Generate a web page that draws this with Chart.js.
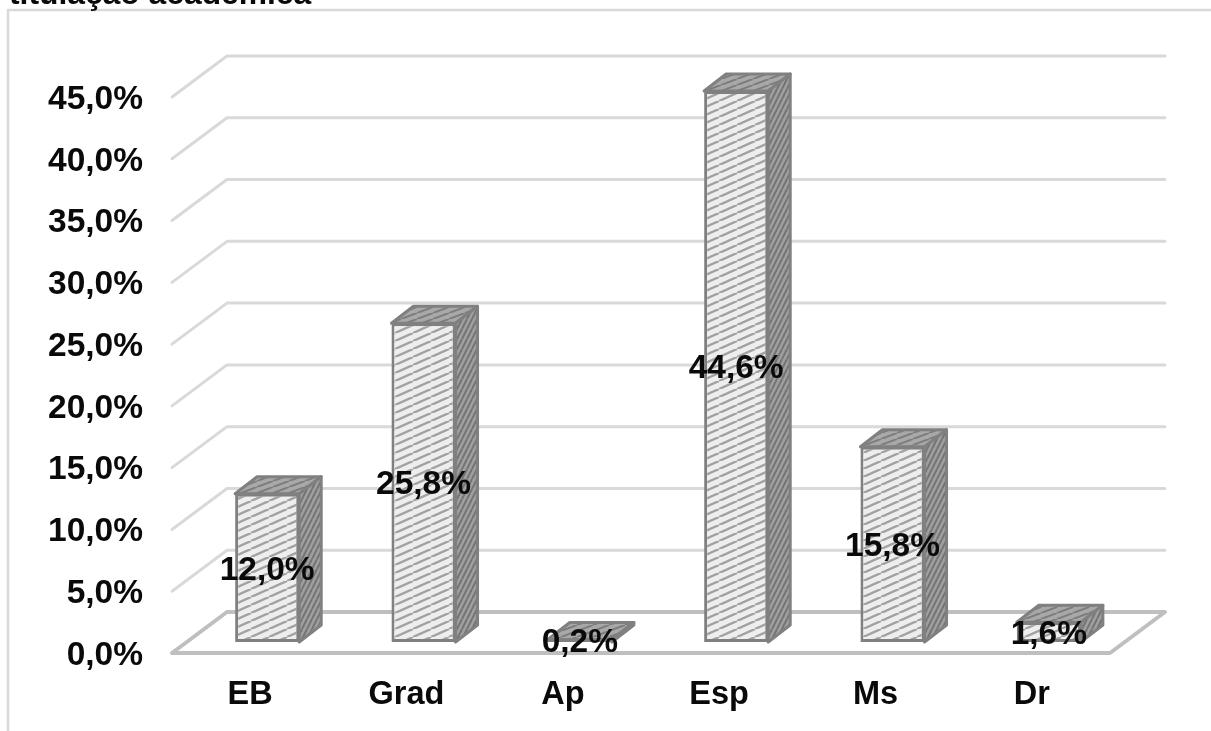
<!DOCTYPE html>
<html>
<head>
<meta charset="utf-8">
<style>
  html, body { margin: 0; padding: 0; background: #fff; }
  canvas { display: block; }
</style>
<script src="https://cdn.jsdelivr.net/npm/chart.js@4"></script>
</head>
<body>
<canvas id="chart" width="1211" height="731"></canvas>
<script>
const categories = ['EB', 'Grad', 'Ap', 'Esp', 'Ms', 'Dr'];
const percentages = [12.0, 25.8, 0.2, 44.6, 15.8, 1.6];
const tickLabels = ['0,0%', '5,0%', '10,0%', '15,0%', '20,0%', '25,0%', '30,0%', '35,0%', '40,0%', '45,0%'];
const titleText = 'titulação acadêmica';

const FONT = '"Liberation Sans", Arial, sans-serif';
const INK = '#0a0a0a';

// offsets of the fake 3D box
const wallDx = 55, wallDy = -41;
const barShiftX = 17, barShiftY = -11;
const depthX = 22, depthY = -17;

function makeStripes(bg, fg, w, h, lineWidth) {
  const c = document.createElement('canvas');
  c.width = w;
  c.height = h;
  const g = c.getContext('2d');
  g.fillStyle = bg;
  g.fillRect(0, 0, w, h);
  g.strokeStyle = fg;
  g.lineWidth = lineWidth;
  for (let i = -1; i <= 1; i++) {
    g.beginPath();
    g.moveTo(i * w, h);
    g.lineTo((i + 1) * w, 0);
    g.stroke();
  }
  return document.createElement('canvas').getContext('2d').createPattern(c, 'repeat');
}

const frontFill = makeStripes('#eeeeee', '#a2a2a2', 18, 8, 2.4);
const topFill = makeStripes('#a8a8a8', '#7c7c7c', 16, 6, 2);
const sideFill = makeStripes('#a0a0a0', '#747474', 5, 10, 2);

const wallsPlugin = {
  id: 'walls',
  beforeDatasetsDraw(chart) {
    const { ctx, chartArea, scales } = chart;
    const y = scales.y;
    ctx.save();
    ctx.lineCap = 'round';
    ctx.lineJoin = 'round';

    // outer frame, only left and top edges are visible
    ctx.strokeStyle = '#d9d9d9';
    ctx.lineWidth = 2.5;
    ctx.beginPath();
    ctx.moveTo(8, 731);
    ctx.lineTo(8, 10);
    ctx.lineTo(1211, 10);
    ctx.stroke();

    // grid lines running up the side wall and along the back wall
    ctx.lineWidth = 3;
    y.ticks.forEach(t => {
      if (t.value === 0) return;
      const py = y.getPixelForValue(t.value);
      ctx.beginPath();
      ctx.moveTo(chartArea.left, py);
      ctx.lineTo(chartArea.left + wallDx, py + wallDy);
      ctx.lineTo(chartArea.right + wallDx, py + wallDy);
      ctx.stroke();
    });

    // floor outline
    const floorY = y.getPixelForValue(0);
    ctx.strokeStyle = '#bfbfbf';
    ctx.lineWidth = 4;
    ctx.beginPath();
    ctx.moveTo(chartArea.left, floorY);
    ctx.lineTo(chartArea.right, floorY);
    ctx.lineTo(chartArea.right + wallDx, floorY + wallDy);
    ctx.lineTo(chartArea.left + wallDx, floorY + wallDy);
    ctx.closePath();
    ctx.stroke();

    // value axis labels, nudged down so the digits sit on the tick
    ctx.font = 'bold 33.5px ' + FONT;
    ctx.fillStyle = INK;
    ctx.textAlign = 'right';
    ctx.textBaseline = 'middle';
    y.ticks.forEach((t, i) => {
      ctx.fillText(tickLabels[i], 143, y.getPixelForValue(t.value) + 2.5);
    });
    ctx.restore();

    // the bars themselves stand a bit inside the floor
    ctx.save();
    ctx.translate(barShiftX, barShiftY);
  },
  afterDatasetsDraw(chart) {
    const { ctx } = chart;
    const bars = chart.getDatasetMeta(0).data;
    ctx.lineWidth = 3;
    ctx.lineJoin = 'round';
    ctx.strokeStyle = '#808080';
    bars.forEach(bar => {
      const l = bar.x - bar.width / 2;
      const r = bar.x + bar.width / 2;
      // top face
      ctx.beginPath();
      ctx.moveTo(l, bar.y);
      ctx.lineTo(l + depthX, bar.y + depthY);
      ctx.lineTo(r + depthX, bar.y + depthY);
      ctx.lineTo(r, bar.y);
      ctx.closePath();
      ctx.fillStyle = topFill;
      ctx.fill();
      ctx.stroke();
      // right face
      ctx.beginPath();
      ctx.moveTo(r, bar.y);
      ctx.lineTo(r + depthX, bar.y + depthY);
      ctx.lineTo(r + depthX, bar.base + depthY);
      ctx.lineTo(r, bar.base);
      ctx.closePath();
      ctx.fillStyle = sideFill;
      ctx.fill();
      ctx.stroke();
    });
    ctx.restore();

    // value labels centred on the front faces
    ctx.save();
    ctx.font = 'bold 33.5px ' + FONT;
    ctx.fillStyle = INK;
    ctx.textAlign = 'center';
    ctx.textBaseline = 'middle';
    bars.forEach((bar, i) => {
      const text = percentages[i].toFixed(1).replace('.', ',') + '%';
      ctx.fillText(text, bar.x + barShiftX, (bar.y + bar.base) / 2 + barShiftY + 2.5);
    });

    // heading, runs off the top of the page
    ctx.font = 'bold 31.8px ' + FONT;
    ctx.textAlign = 'left';
    ctx.textBaseline = 'alphabetic';
    ctx.fillText(titleText, 9, 4);
    ctx.restore();
  }
};

new Chart(document.getElementById('chart'), {
  type: 'bar',
  data: {
    labels: categories,
    datasets: [{
      data: percentages,
      backgroundColor: frontFill,
      borderColor: '#808080',
      borderWidth: 3,
      borderSkipped: false,
      barPercentage: 0.41,
      categoryPercentage: 1,
      clip: false
    }]
  },
  options: {
    responsive: false,
    animation: false,
    layout: { padding: { top: 97, right: 101, left: 0, bottom: 0 } },
    plugins: {
      legend: { display: false },
      title: { display: false },
      tooltip: { enabled: false }
    },
    scales: {
      x: {
        grid: { display: false, drawTicks: false },
        border: { display: false },
        ticks: {
          color: INK,
          padding: 23,
          maxRotation: 0,
          font: { family: FONT, size: 32.5, weight: 'bold' }
        },
        afterFit(axis) { axis.height = 78; }
      },
      y: {
        min: 0,
        max: 45,
        grid: { display: false, drawTicks: false },
        border: { display: false },
        ticks: { stepSize: 5, display: false },
        afterFit(axis) { axis.width = 172; }
      }
    }
  },
  plugins: [wallsPlugin]
});
</script>
</body>
</html>
